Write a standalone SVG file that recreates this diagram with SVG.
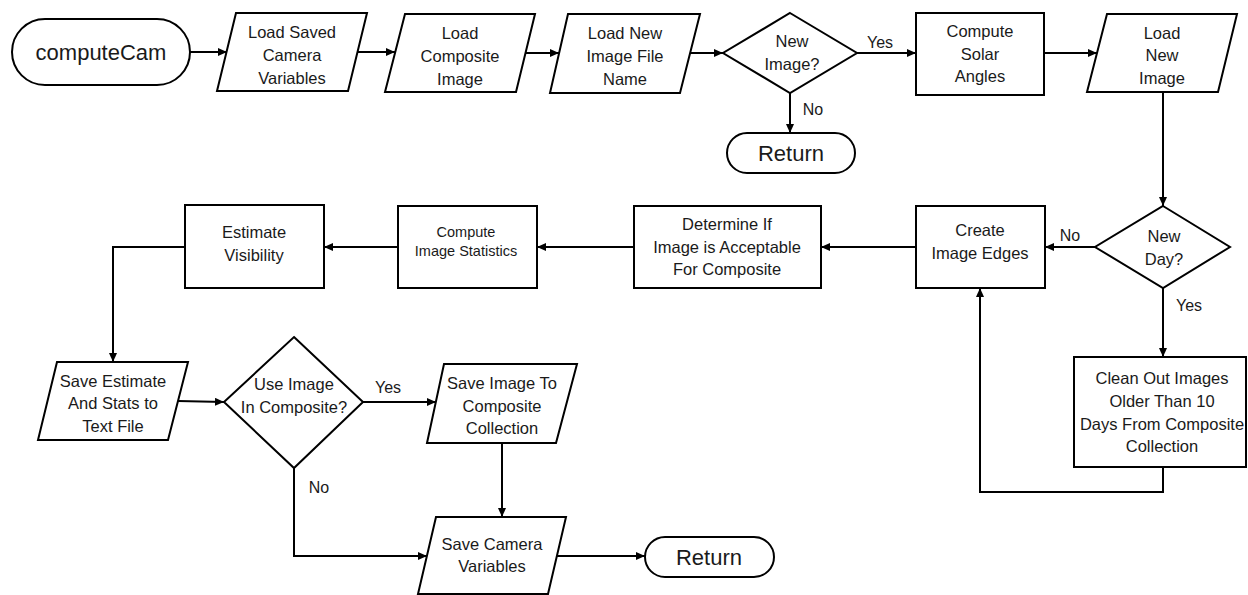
<svg xmlns="http://www.w3.org/2000/svg" width="1248" height="595" viewBox="0 0 1248 595">
  <style>
    .shape { fill: #ffffff; stroke: #000000; stroke-width: 2; }
    .txt { font-family: "Liberation Sans", Arial, sans-serif; font-size: 16.5px; fill: #1a1a1a; text-anchor: middle; }
    .big { font-size: 22px; }
    .small { font-size: 14.5px; }
    .lbl { font-family: "Liberation Sans", Arial, sans-serif; font-size: 16px; fill: #1a1a1a; text-anchor: middle; }
    .edge { fill: none; stroke: #000000; stroke-width: 2; marker-end: url(#arrow); }
  </style>
  <defs>
    <marker id="arrow" markerUnits="userSpaceOnUse" markerWidth="9" markerHeight="8" refX="9" refY="4" orient="auto">
      <path d="M0,0 L9,4 L0,8 z" fill="#000000"/>
    </marker>
  </defs>
  <rect width="1248" height="595" fill="#ffffff"/>

  <!-- connectors -->
  <g id="connectors">
    <line class="edge" x1="190" y1="52" x2="227" y2="52"/>
    <line class="edge" x1="357" y1="52" x2="395" y2="52"/>
    <line class="edge" x1="526" y1="53" x2="559" y2="53"/>
    <line class="edge" x1="690" y1="53" x2="723" y2="53"/>
    <line class="edge" x1="790" y1="93" x2="790" y2="133"/>
    <line class="edge" x1="857" y1="53" x2="916" y2="53"/>
    <line class="edge" x1="1044" y1="53" x2="1097" y2="53"/>
    <line class="edge" x1="1163" y1="92" x2="1163" y2="206"/>
    <line class="edge" x1="1095" y1="247" x2="1045" y2="247"/>
    <line class="edge" x1="916" y1="247" x2="821" y2="247"/>
    <line class="edge" x1="634" y1="247" x2="537" y2="247"/>
    <line class="edge" x1="398" y1="247" x2="324" y2="247"/>
    <polyline class="edge" points="185,247 113,247 113,362"/>
    <line class="edge" x1="178" y1="401" x2="224" y2="402"/>
    <line class="edge" x1="363" y1="402" x2="436" y2="402"/>
    <line class="edge" x1="502" y1="443" x2="502" y2="517"/>
    <polyline class="edge" points="294,468 294,556 427,556"/>
    <line class="edge" x1="557" y1="556" x2="645" y2="556"/>
    <line class="edge" x1="1163" y1="288" x2="1163" y2="357"/>
    <polyline class="edge" points="1163,467 1163,492 980,492 980,288"/>

    <text class="lbl" x="880" y="48">Yes</text>
    <text class="lbl" x="813" y="115">No</text>
    <text class="lbl" x="1070" y="241">No</text>
    <text class="lbl" x="1189" y="311">Yes</text>
    <text class="lbl" x="388" y="393">Yes</text>
    <text class="lbl" x="319" y="493">No</text>
  </g>

  <!-- nodes -->
  <g id="start">
    <rect class="shape" x="12" y="19" width="178" height="66" rx="33"/>
    <text class="txt big" x="101" y="60">computeCam</text>
  </g>

  <g id="load-saved-vars">
    <polygon class="shape" points="236,13 367,13 348,91 217,91"/>
    <text class="txt" x="292" y="38">Load Saved</text>
    <text class="txt" x="292" y="61">Camera</text>
    <text class="txt" x="292" y="84">Variables</text>
  </g>

  <g id="load-composite">
    <polygon class="shape" points="405,14 535,14 516,92 385,92"/>
    <text class="txt" x="460" y="39">Load</text>
    <text class="txt" x="460" y="62">Composite</text>
    <text class="txt" x="460" y="85">Image</text>
  </g>

  <g id="load-file-name">
    <polygon class="shape" points="568,14 700,14 680,93 550,93"/>
    <text class="txt" x="625" y="39">Load New</text>
    <text class="txt" x="625" y="62">Image File</text>
    <text class="txt" x="625" y="85">Name</text>
  </g>

  <g id="new-image">
    <polygon class="shape" points="790,13 857,53 790,93 723,53"/>
    <text class="txt" x="792" y="47">New</text>
    <text class="txt" x="792" y="70">Image?</text>
  </g>

  <g id="return-top">
    <rect class="shape" x="727" y="133" width="128" height="40" rx="20"/>
    <text class="txt big" x="791" y="161">Return</text>
  </g>

  <g id="solar-angles">
    <rect class="shape" x="916" y="13" width="128" height="82"/>
    <text class="txt" x="980" y="37">Compute</text>
    <text class="txt" x="980" y="60">Solar</text>
    <text class="txt" x="980" y="82">Angles</text>
  </g>

  <g id="load-new-image">
    <polygon class="shape" points="1107,14 1237,14 1218,92 1087,92"/>
    <text class="txt" x="1162" y="39">Load</text>
    <text class="txt" x="1162" y="61">New</text>
    <text class="txt" x="1162" y="84">Image</text>
  </g>

  <g id="new-day">
    <polygon class="shape" points="1163,206 1230,247 1163,288 1095,247"/>
    <text class="txt" x="1164" y="242">New</text>
    <text class="txt" x="1164" y="265">Day?</text>
  </g>

  <g id="image-edges">
    <rect class="shape" x="916" y="206" width="129" height="82"/>
    <text class="txt" x="980" y="236">Create</text>
    <text class="txt" x="980" y="259">Image Edges</text>
  </g>

  <g id="acceptable">
    <rect class="shape" x="634" y="206" width="187" height="82"/>
    <text class="txt" x="727" y="230">Determine If</text>
    <text class="txt" x="727" y="253">Image is Acceptable</text>
    <text class="txt" x="727" y="275">For Composite</text>
  </g>

  <g id="image-stats">
    <rect class="shape" x="398" y="206" width="139" height="82"/>
    <text class="txt small" x="466" y="237">Compute</text>
    <text class="txt small" x="466" y="256">Image Statistics</text>
  </g>

  <g id="visibility">
    <rect class="shape" x="185" y="205" width="139" height="83"/>
    <text class="txt" x="254" y="238">Estimate</text>
    <text class="txt" x="254" y="261">Visibility</text>
  </g>

  <g id="clean-out">
    <rect class="shape" x="1074" y="357" width="172" height="110"/>
    <text class="txt" x="1162" y="384">Clean Out Images</text>
    <text class="txt" x="1162" y="407">Older Than 10</text>
    <text class="txt" x="1162" y="430">Days From Composite</text>
    <text class="txt" x="1162" y="452">Collection</text>
  </g>

  <g id="save-estimate">
    <polygon class="shape" points="57,362 188,362 168,440 38,440"/>
    <text class="txt" x="113" y="387">Save Estimate</text>
    <text class="txt" x="113" y="409">And Stats to</text>
    <text class="txt" x="113" y="432">Text File</text>
  </g>

  <g id="use-image">
    <polygon class="shape" points="294,337 363,402 294,468 224,402"/>
    <text class="txt" x="294" y="390">Use Image</text>
    <text class="txt" x="294" y="413">In Composite?</text>
  </g>

  <g id="save-image">
    <polygon class="shape" points="444,364 577,364 556,443 427,443"/>
    <text class="txt" x="502" y="389">Save Image To</text>
    <text class="txt" x="502" y="412">Composite</text>
    <text class="txt" x="502" y="434">Collection</text>
  </g>

  <g id="save-camera-vars">
    <polygon class="shape" points="436,517 566,517 548,594 418,594"/>
    <text class="txt" x="492" y="550">Save Camera</text>
    <text class="txt" x="492" y="572">Variables</text>
  </g>

  <g id="return-bottom">
    <rect class="shape" x="645" y="537" width="129" height="40" rx="20"/>
    <text class="txt big" x="709" y="565">Return</text>
  </g>
</svg>
